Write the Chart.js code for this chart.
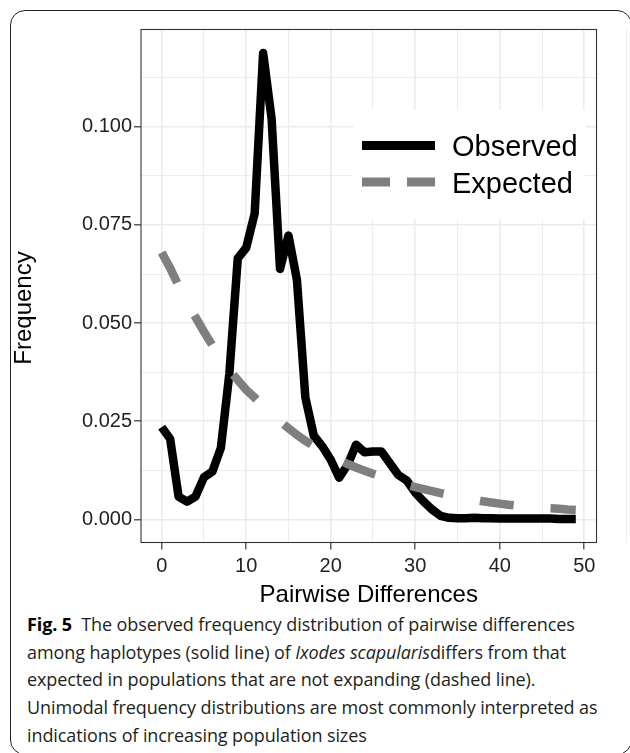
<!DOCTYPE html>
<html>
<head>
<meta charset="utf-8">
<script src="https://cdn.jsdelivr.net/npm/chart.js@4"></script>
<style>
  html, body { margin: 0; padding: 0; background: #fff; width: 630px; height: 753px; overflow: hidden; }
  #frame { position: absolute; left: 10px; top: 10px; width: 622px; height: 745px; box-sizing: border-box;
           border: 1.3px solid #222; border-radius: 15px; }
  #wrap { position: absolute; left: 0; top: 0; width: 630px; height: 610px; }
  #caption { position: absolute; left: 27px; top: 611px; font-family: "Open Sans", sans-serif; font-size: 18px;
             line-height: 27.7px; color: #231f20; white-space: nowrap; letter-spacing: -0.1px; }
  #caption b { color: #000; }
</style>
</head>
<body>
<div id="frame"></div>
<div id="wrap"><canvas id="chart" width="630" height="610"></canvas></div>
<div id="caption"><b>Fig. 5</b>&nbsp; The observed frequency distribution of pairwise differences<br>among haplotypes (solid line) of <i>Ixodes scapularis</i>differs from that<br>expected in populations that are not expanding (dashed line).<br>Unimodal frequency distributions are most commonly interpreted as<br>indications of increasing population sizes</div>
<script>
(function () {
  "use strict";

  // pairwise differences (x) and the two frequency series
  var PAIRWISE = [0, 1, 2, 3, 4, 5, 6, 7, 8, 9, 10, 11, 12, 13, 14, 15, 16, 17, 18, 19,
    20, 21, 22, 23, 24, 25, 26, 27, 28, 29, 30, 31, 32, 33, 34, 35, 36, 37, 38, 39,
    40, 41, 42, 43, 44, 45, 46, 47, 48, 49];
  var OBSERVED = [0.0235, 0.0205, 0.0058, 0.0045, 0.0058, 0.0107, 0.0122, 0.0182, 0.0370, 0.0665,
    0.0692, 0.0779, 0.1188, 0.1022, 0.0638, 0.0723, 0.0610, 0.0310, 0.0213, 0.0186,
    0.0152, 0.0106, 0.0139, 0.0190, 0.0171, 0.0173, 0.0173, 0.0143, 0.0113, 0.0099,
    0.0068, 0.0045, 0.0025, 0.0009, 0.0004, 0.0003, 0.0003, 0.0004, 0.0003, 0.0003,
    0.0002, 0.0002, 0.0002, 0.0002, 0.0002, 0.0002, 0.0002, 0.0001, 0.0001, 0.0001];
  var EXPECTED = [0.0680, 0.0640, 0.0595, 0.0555, 0.0515, 0.0478, 0.0443, 0.0410, 0.0380, 0.0355,
    0.0330, 0.0310, 0.0288, 0.0268, 0.0250, 0.0232, 0.0215, 0.0200, 0.0187, 0.0174,
    0.0162, 0.0151, 0.0141, 0.0132, 0.0124, 0.0116, 0.0109, 0.0102, 0.0095, 0.0088,
    0.0082, 0.0077, 0.0072, 0.0067, 0.0062, 0.0058, 0.0054, 0.0050, 0.0046, 0.0043,
    0.0040, 0.0037, 0.0035, 0.0033, 0.0031, 0.0030, 0.0028, 0.0027, 0.0025, 0.0024];
  var SERIES = ["Observed", "Expected"];
  var X_TICKS = [0, 10, 20, 30, 40, 50];
  var Y_TICKS = [0, 0.025, 0.05, 0.075, 0.1];
  var X_RANGE = [-2.45, 51.45];
  var Y_RANGE = [-0.0059, 0.1248];
  var X_TITLE = "Pairwise Differences";
  var Y_TITLE = "Frequency";

  var INK = "#000";
  var GREY = "#7f7f7f";
  var GRID = "#ebebeb";
  var AXIS = "#333";
  var FONT = "'Liberation Sans', Arial, Helvetica, sans-serif";

  function withMinor(major) {
    var out = [];
    var step = major[1] - major[0];
    for (var i = 0; i < major.length; i++) {
      out.push(major[i]);
      out.push(major[i] + step / 2);
    }
    return out;
  }
  function isMajor(list, v) {
    return list.some(function (t) { return Math.abs(t - v) < 1e-9; });
  }
  function pts(ys) { return PAIRWISE.map(function (x, i) { return { x: x, y: ys[i] }; }); }

  Chart.defaults.font.family = FONT;
  Chart.defaults.color = "#222";

  var panelBorder = {
    id: "panelBorder",
    afterDraw: function (chart) {
      var a = chart.chartArea, ctx = chart.ctx;
      ctx.save();
      ctx.strokeStyle = AXIS;
      ctx.lineWidth = 1.1;
      ctx.strokeRect(a.left, a.top, a.right - a.left, a.bottom - a.top);
      // y title, placed where the figure has it
      ctx.fillStyle = "#000";
      ctx.font = "24px " + FONT;
      ctx.textAlign = "center";
      ctx.textBaseline = "middle";
      ctx.translate(24, 308);
      ctx.rotate(-Math.PI / 2);
      ctx.fillText(Y_TITLE, 0, 0);
      ctx.restore();
    }
  };

  // ggplot-style legend sitting inside the panel
  var insideLegend = {
    id: "insideLegend",
    afterDraw: function (chart) {
      var ctx = chart.ctx;
      ctx.save();
      ctx.fillStyle = "#fff";
      ctx.fillRect(353, 110, 232, 109);
      var rows = [145.5, 182];
      chart.data.datasets.forEach(function (ds, i) {
        var y = rows[i];
        ctx.strokeStyle = ds.borderColor;
        ctx.lineWidth = 9;
        ctx.lineCap = "butt";
        ctx.beginPath();
        if (ds.borderDash && ds.borderDash.length) {
          ctx.moveTo(362, y); ctx.lineTo(390, y);
          ctx.moveTo(407, y); ctx.lineTo(435, y);
        } else {
          ctx.moveTo(362, y); ctx.lineTo(435, y);
        }
        ctx.stroke();
        ctx.fillStyle = "#000";
        ctx.font = "29px " + FONT;
        ctx.textBaseline = "alphabetic";
        ctx.textAlign = "left";
        ctx.fillText(ds.label, 452, y + 10.5);
      });
      ctx.restore();
    }
  };

  new Chart(document.getElementById("chart"), {
    type: "line",
    data: {
      datasets: [
        { label: SERIES[0], data: pts(OBSERVED), borderColor: INK, borderWidth: 8.5,
          borderJoinStyle: "round", pointRadius: 0, tension: 0, order: 1 },
        { label: SERIES[1], data: pts(EXPECTED), borderColor: GREY, borderWidth: 8.5,
          borderDash: [34, 37], pointRadius: 0, tension: 0, order: 0 },
      ],
    },
    options: {
      responsive: false,
      animation: false,
      events: [],
      layout: { padding: { left: 0, top: 29.5, right: 23, bottom: 0 } },
      plugins: { legend: { display: false }, tooltip: { enabled: false } },
      scales: {
        x: {
          type: "linear", min: X_RANGE[0], max: X_RANGE[1],
          afterBuildTicks: function (ax) { ax.ticks = withMinor(X_TICKS).map(function (v) { return { value: v }; }); },
          afterFit: function (ax) { ax.height = 67.5; },
          ticks: {
            autoSkip: false, maxRotation: 0, padding: 5, color: "#222", font: { size: 20 },
            callback: function (v) { return isMajor(X_TICKS, v) ? String(v) : ""; },
          },
          grid: {
            color: GRID, tickLength: 7, tickWidth: 1.2,
            lineWidth: function (c) { return c.tick && isMajor(X_TICKS, c.tick.value) ? 1.6 : 0.9; },
            tickColor: function (c) { return c.tick && isMajor(X_TICKS, c.tick.value) ? AXIS : "rgba(0,0,0,0)"; },
          },
          border: { display: false },
          title: { display: true, text: X_TITLE, color: "#000", font: { size: 24 }, padding: { top: 0, bottom: 0.5 } },
        },
        y: {
          type: "linear", min: Y_RANGE[0], max: Y_RANGE[1],
          afterBuildTicks: function (ax) { ax.ticks = withMinor(Y_TICKS).map(function (v) { return { value: v }; }); },
          afterFit: function (ax) { ax.width = 141; },
          ticks: {
            autoSkip: false, padding: 2, color: "#222", font: { size: 20 },
            callback: function (v) { return isMajor(Y_TICKS, v) ? v.toFixed(3) : ""; },
          },
          grid: {
            color: GRID, tickLength: 7, tickWidth: 1.2,
            lineWidth: function (c) { return c.tick && isMajor(Y_TICKS, c.tick.value) ? 1.6 : 0.9; },
            tickColor: function (c) { return c.tick && isMajor(Y_TICKS, c.tick.value) ? AXIS : "rgba(0,0,0,0)"; },
          },
          border: { display: false },
          title: { display: false },
        },
      },
    },
    plugins: [panelBorder, insideLegend],
  });
})();
</script>
</body>
</html>
